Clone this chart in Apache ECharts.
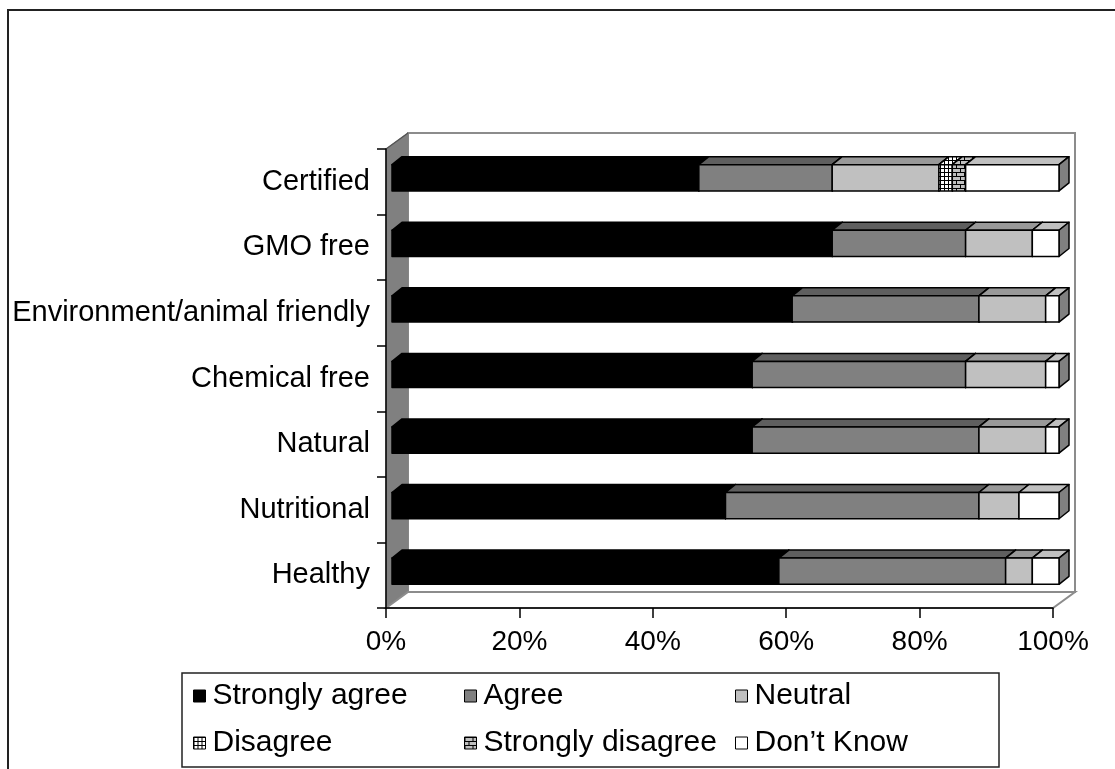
<!DOCTYPE html>
<html>
<head>
<meta charset="utf-8">
<script src="https://cdn.jsdelivr.net/npm/echarts@6/dist/echarts.min.js"></script>
</head>
<body style="margin:0;background:#fff">
<div id="main" style="width:1115px;height:769px"></div>
<script>
var categories = ['Certified', 'GMO free', 'Environment/animal friendly', 'Chemical free', 'Natural', 'Nutritional', 'Healthy'];
var stronglyAgree    = [46, 66, 60, 54, 54, 50, 58];
var agree            = [20, 20, 28, 32, 34, 38, 34];
var neutral          = [16, 10, 10, 12, 10, 6, 4];
var disagree         = [2, 0, 0, 0, 0, 0, 0];
var stronglyDisagree = [2, 0, 0, 0, 0, 0, 0];
var dontKnow         = [14, 4, 2, 2, 2, 6, 4];
var xTicks = [0, 20, 40, 60, 80, 100];

var W = 1115, H = 769;
var FONT = 'Liberation Sans, Arial, sans-serif';
var grid = { left: 386, top: 149, right: 62, bottom: 161 };
var WALL = [22, -16];   // depth of the back wall
var SHIFT = [6, -4];    // bars sit a bit behind the front plane
var DEPTH = [10, -8];   // top / side face of each bar

function makePattern(size, draw) {
  var c = document.createElement('canvas');
  c.width = c.height = size;
  draw(c.getContext('2d'));
  return { image: c, repeat: 'repeat' };
}
var gridFill = makePattern(4, function (ctx) {
  ctx.fillStyle = '#fff'; ctx.fillRect(0, 0, 4, 4);
  ctx.fillStyle = '#000'; ctx.fillRect(0, 0, 4, 1); ctx.fillRect(0, 0, 1, 4);
});
var brickFill = makePattern(8, function (ctx) {
  ctx.fillStyle = '#c0c0c0'; ctx.fillRect(0, 0, 8, 8);
  ctx.fillStyle = '#000';
  ctx.fillRect(0, 0, 8, 1); ctx.fillRect(0, 4, 8, 1);
  ctx.fillRect(0, 0, 1, 4); ctx.fillRect(4, 4, 1, 4);
});

var groups = [
  { name: 'Strongly agree', values: stronglyAgree, front: '#000000', top: '#000000', side: '#000000' },
  { name: 'Agree', values: agree, front: '#808080', top: '#5f5f5f', side: '#404040' },
  { name: 'Neutral', values: neutral, front: '#c0c0c0', top: '#999999', side: '#808080' },
  { name: 'Disagree', values: disagree, front: gridFill, top: gridFill, side: gridFill },
  { name: 'Strongly disagree', values: stronglyDisagree, front: brickFill, top: brickFill, side: brickFill },
  { name: "Don\u2019t Know", values: dontKnow, front: '#ffffff', top: '#c0c0c0', side: '#808080' }
];

function boxRenderer(g) {
  return function (params, api) {
    var cat = api.value(0);
    var p0 = api.coord([api.value(1), cat]);
    var p1 = api.coord([api.value(2), cat]);
    var h = api.size([0, 1])[1] * 0.4;
    var x0 = p0[0] + SHIFT[0], x1 = p1[0] + SHIFT[0];
    var yt = p0[1] + SHIFT[1] - h / 2, yb = yt + h;
    var dx = DEPTH[0], dy = DEPTH[1];
    var st = { stroke: '#000', lineWidth: 1.5, lineJoin: 'round' };
    return {
      type: 'group',
      children: [
        { type: 'polygon', shape: { points: [[x0, yt], [x0 + dx, yt + dy], [x1 + dx, yt + dy], [x1, yt]] },
          style: Object.assign({ fill: g.top }, st) },
        { type: 'polygon', shape: { points: [[x1, yt], [x1 + dx, yt + dy], [x1 + dx, yb + dy], [x1, yb]] },
          style: Object.assign({ fill: g.side }, st) },
        { type: 'rect', shape: { x: x0, y: yt, width: x1 - x0, height: h },
          style: Object.assign({ fill: g.front }, st) }
      ]
    };
  };
}

var starts = categories.map(function () { return 0; });
var series = groups.map(function (g) {
  var data = [];
  g.values.forEach(function (v, i) {
    if (v > 0) data.push([i, starts[i], starts[i] + v]);
    starts[i] += v;
  });
  return {
    name: g.name,
    type: 'custom',
    renderItem: boxRenderer(g),
    encode: { x: [1, 2], y: 0 },
    itemStyle: { color: g.front, borderColor: '#000', borderWidth: 1 },
    data: data,
    z: 3
  };
});

var legendCols = [193, 464, 735];
var legendRows = [681, 728];
var legends = groups.map(function (g, i) {
  return {
    data: [g.name],
    left: legendCols[i % 3],
    top: legendRows[Math.floor(i / 3)],
    padding: 0,
    itemWidth: 12,
    itemHeight: 12,
    icon: 'rect',
    selectedMode: false,
    itemStyle: { borderColor: '#000', borderWidth: 1 },
    textStyle: { fontSize: 30, color: '#000', fontFamily: FONT, padding: [0, 0, 0, 2] }
  };
});

var fx0 = grid.left, fx1 = W - grid.right, fy0 = grid.top, fy1 = H - grid.bottom;
var graphics = [
  { type: 'rect', z: -5, shape: { x: 8, y: 10, width: 1300, height: 1000 },
    style: { fill: 'none', stroke: '#222', lineWidth: 2 } },
  { type: 'rect', z: -5, shape: { x: fx0 + WALL[0], y: fy0 + WALL[1], width: fx1 - fx0, height: fy1 - fy0 },
    style: { fill: '#fff', stroke: '#8c8c8c', lineWidth: 2 } },
  { type: 'polygon', z: -4, shape: { points: [[fx0, fy0], [fx0 + WALL[0], fy0 + WALL[1]], [fx0 + WALL[0], fy1 + WALL[1]], [fx0, fy1]] },
    style: { fill: '#808080', stroke: '#808080', lineWidth: 1 } },
  { type: 'polygon', z: -4, shape: { points: [[fx0, fy1], [fx0 + WALL[0], fy1 + WALL[1]], [fx1 + WALL[0], fy1 + WALL[1]], [fx1, fy1]] },
    style: { fill: '#fff', stroke: '#8c8c8c', lineWidth: 2 } },
  { type: 'line', z: -3, shape: { x1: fx0, y1: fy0, x2: fx0 + WALL[0], y2: fy0 + WALL[1] },
    style: { stroke: '#555', lineWidth: 1.5 } },
  { type: 'rect', z: -5, shape: { x: 182, y: 673, width: 817, height: 94 },
    style: { fill: '#fff', stroke: '#222', lineWidth: 1.5 } }
];

var chart = echarts.init(document.getElementById('main'), null, { renderer: 'canvas' });
chart.setOption({
  animation: false,
  backgroundColor: '#fff',
  grid: grid,
  graphic: graphics,
  legend: legends,
  xAxis: {
    type: 'value',
    min: xTicks[0],
    max: xTicks[xTicks.length - 1],
    interval: xTicks[1] - xTicks[0],
    axisLine: { show: true, lineStyle: { color: '#000', width: 1.5 } },
    axisTick: { show: true, length: 10, lineStyle: { color: '#000', width: 1.5 } },
    splitLine: { show: false },
    axisLabel: { formatter: '{value}%', fontSize: 28, color: '#000', fontFamily: FONT, margin: 20 }
  },
  yAxis: {
    type: 'category',
    data: categories,
    inverse: true,
    axisLine: { show: true, lineStyle: { color: '#000', width: 1.5 } },
    axisTick: { show: true, length: 9, lineStyle: { color: '#000', width: 1.5 } },
    splitLine: { show: false },
    axisLabel: { fontSize: 29, color: '#000', fontFamily: FONT, margin: 16 }
  },
  series: series
});
</script>
</body>
</html>
